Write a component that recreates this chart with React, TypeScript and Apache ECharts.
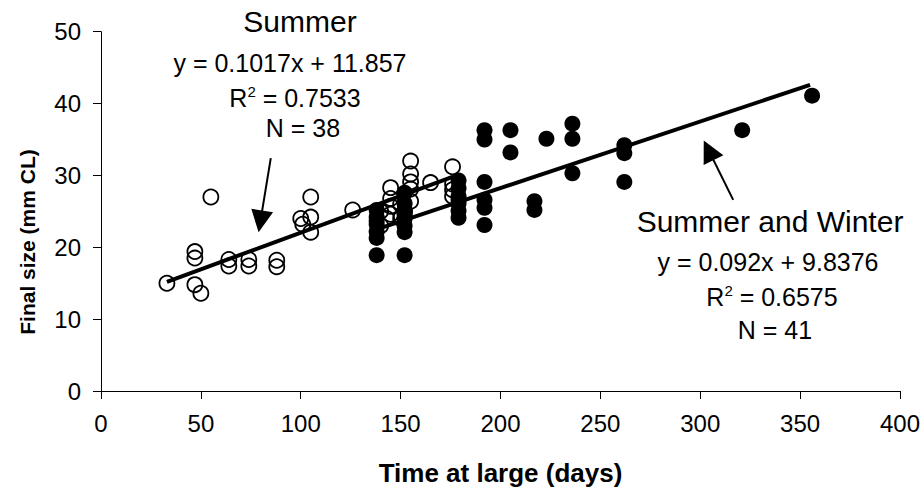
import React, { useEffect, useRef } from 'react';
import * as echarts from 'echarts';

const FONT = '"Liberation Sans", Arial, Helvetica, sans-serif';

// Summer (open circles): [days at large, final size mm CL]
const summerPoints: [number, number][] = [
  [33, 15], [47, 19.4], [47, 18.5], [47, 14.8], [50, 13.6], [55, 27],
  [64, 18.3], [64, 17.4], [74, 18.3], [74, 17.4], [88, 18.2], [88, 17.3],
  [100, 24], [101, 23.2], [105, 27], [105, 24.2], [105, 22.1], [126, 25.2],
  [140, 25], [143, 24], [145, 28.3], [145, 26.8], [145, 25.7], [145, 24.6],
  [150, 26], [150, 24], [155, 32], [155, 30.2], [155, 29.1], [155, 28.1],
  [155, 26.4], [165, 29], [176, 31.2], [176, 28.8], [176, 28], [176, 27.1],
  [152, 25], [140, 23],
];

// Summer and Winter (filled circles)
const swPoints: [number, number][] = [
  [138, 25.2], [138, 24.2], [138, 23.2], [138, 22.2], [138, 21.3], [138, 18.9],
  [152, 27.6], [152, 26.1], [152, 25], [152, 24], [152, 23], [152, 22.1], [152, 18.9],
  [179, 29.3], [179, 28.2], [179, 27.1], [179, 26.1], [179, 25.1], [179, 24.1],
  [192, 36.3], [192, 35], [192, 29.1], [192, 26.6], [192, 25.5], [192, 23.1],
  [205, 36.3], [205, 33.2],
  [217, 26.4], [217, 25.2],
  [223, 35.1],
  [236, 37.2], [236, 35.1], [236, 30.3],
  [262, 34.2], [262, 33.1], [262, 29.1],
  [321, 36.3],
  [356, 41.1],
  [138, 23.7], [152, 24.5], [179, 26.6],
];

const summerTrend: [number, number][] = [[33, 15.2], [176, 29.8]];
const swTrend: [number, number][] = [[138, 22.5], [355, 42.6]];

const summerArrow: [number, number][] = [[85, 32.4], [79.8, 23.6]];
const swArrow: [number, number][] = [[316.5, 26.6], [304.2, 33.5]];

const xTitle = 'Time at large (days)';
const yTitle = 'Final size (mm CL)';

const summerLabel = ['Summer', 'y = 0.1017x + 11.857', '0.7533', 'N = 38'];
const swLabel = ['Summer and Winter', 'y = 0.092x + 9.8376', '0.6575', 'N = 41'];

function rText(x: number, y: number, value: string, size: number) {
  return {
    type: 'text',
    x,
    y,
    style: {
      text: `{a|R}{s|2}{a| = ${value}}`,
      align: 'center',
      verticalAlign: 'middle',
      fill: '#000',
      rich: {
        a: { fontSize: size, fontFamily: FONT, fill: '#000', lineHeight: 30, verticalAlign: 'middle' },
        s: { fontSize: 15, fontFamily: FONT, fill: '#000', lineHeight: 30, verticalAlign: 'top', padding: [1, 0, 0, 0] },
      },
    },
  };
}

function plainText(x: number, y: number, text: string, size: number) {
  return {
    type: 'text',
    x,
    y,
    style: {
      text,
      align: 'center',
      verticalAlign: 'middle',
      fill: '#000',
      font: `${size}px ${FONT}`,
    },
  };
}

export default function App() {
  const ref = useRef<HTMLDivElement>(null);

  useEffect(() => {
    if (!ref.current) return;
    const chart = echarts.init(ref.current, undefined, { renderer: 'svg' });
    const arrowMark = (pts: [number, number][]) => ({
      silent: true,
      symbol: ['none', 'triangle'],
      symbolSize: [22, 22],
      label: { show: false },
      lineStyle: { color: '#000', width: 2, type: 'solid', opacity: 1 },
      itemStyle: { color: '#000', opacity: 1 },
      data: [[{ coord: pts[0] }, { coord: pts[1] }]],
    });
    chart.setOption({
      animation: false,
      backgroundColor: '#fff',
      grid: { left: 101, right: 23, top: 31.7, bottom: 102, containLabel: false },
      xAxis: {
        type: 'value',
        min: 0,
        max: 400,
        interval: 50,
        axisLine: { show: true, onZero: false, lineStyle: { color: '#000', width: 1 } },
        axisTick: { show: true, length: 8, lineStyle: { color: '#000' } },
        splitLine: { show: false },
        axisLabel: { color: '#000', fontSize: 24, fontFamily: FONT, margin: 20, showMinLabel: true, showMaxLabel: true },
        name: xTitle,
        nameLocation: 'middle',
        nameGap: 69,
        nameTextStyle: { color: '#000', fontSize: 26, fontWeight: 'bold', fontFamily: FONT },
      },
      yAxis: {
        type: 'value',
        min: 0,
        max: 50,
        interval: 10,
        axisLine: { show: true, lineStyle: { color: '#000', width: 1 } },
        axisTick: { show: true, length: 8, lineStyle: { color: '#000' } },
        splitLine: { show: false },
        axisLabel: { color: '#000', fontSize: 24, fontFamily: FONT, margin: 20 },
      },
      graphic: [
        {
          type: 'text',
          x: 27,
          y: 242,
          rotation: Math.PI / 2,
          style: {
            text: yTitle,
            align: 'center',
            verticalAlign: 'middle',
            fill: '#000',
            font: `bold 21px ${FONT}`,
          },
        },
        plainText(300, 21, summerLabel[0], 30),
        plainText(290, 63, summerLabel[1], 25),
        rText(295, 98, summerLabel[2], 25),
        plainText(303, 128, summerLabel[3], 25),
        plainText(770, 221, swLabel[0], 30),
        plainText(768, 262, swLabel[1], 25),
        rText(772, 297, swLabel[2], 25),
        plainText(775, 330, swLabel[3], 25),
      ],
      series: [
        {
          type: 'scatter',
          name: 'Summer',
          data: summerPoints,
          symbol: 'circle',
          symbolSize: 15,
          itemStyle: { color: 'rgba(0,0,0,0)', borderColor: '#000', borderWidth: 1.8, opacity: 1 },
          z: 2,
        },
        {
          type: 'scatter',
          name: 'Summer and Winter',
          data: swPoints,
          symbol: 'circle',
          symbolSize: 16,
          itemStyle: { color: '#000', opacity: 1 },
          z: 3,
        },
        {
          type: 'line',
          data: summerTrend,
          symbol: 'none',
          lineStyle: { color: '#000', width: 4 },
          z: 4,
          markLine: arrowMark(summerArrow),
        },
        {
          type: 'line',
          data: swTrend,
          symbol: 'none',
          lineStyle: { color: '#000', width: 4 },
          z: 4,
          markLine: arrowMark(swArrow),
        },
      ],
    });
    return () => chart.dispose();
  }, []);

  return (
    <div
      ref={ref}
      style={{ position: 'absolute', left: 0, top: 0, width: 923, height: 493, background: '#fff' }}
    />
  );
}
